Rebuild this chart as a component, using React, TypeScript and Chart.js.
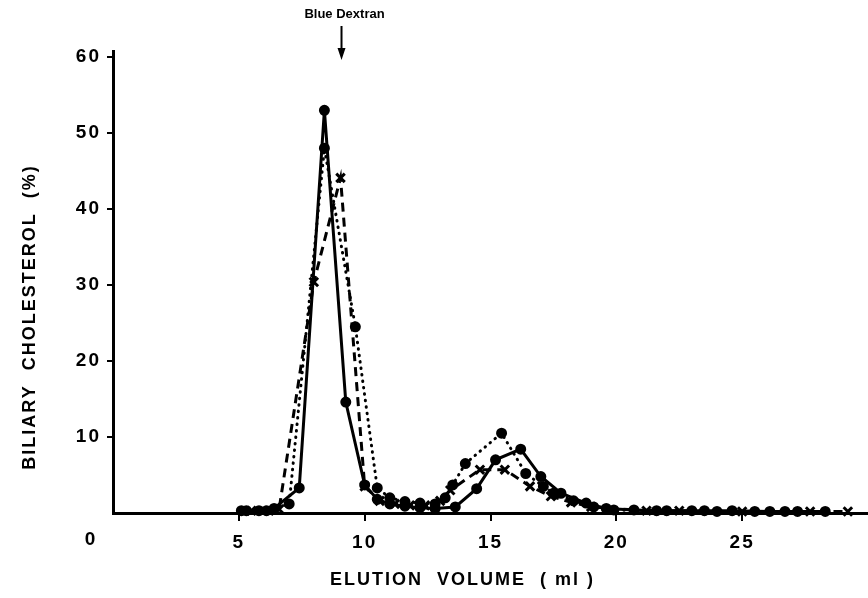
import React, { useEffect, useRef } from "react";
import { Chart, registerables } from "chart.js";

Chart.register(...registerables);

// ---- data (elution volume in ml, biliary cholesterol in %) ----
const solidX = [5.1, 5.8, 6.4, 7.4, 8.4, 9.25, 10.0, 10.5, 11.0, 11.6, 12.2, 12.8, 13.6, 14.45, 15.2, 16.2, 17.0, 17.8, 18.8, 19.6, 20.7, 22.0, 23.5, 24.6, 26.1, 27.2, 28.3];
const solidY = [0.3, 0.3, 0.6, 3.3, 53.0, 14.6, 3.7, 1.8, 1.2, 0.9, 0.7, 0.6, 0.8, 3.2, 7.0, 8.4, 4.8, 2.6, 1.3, 0.6, 0.4, 0.3, 0.3, 0.3, 0.2, 0.2, 0.2];

const dottedX = [5.3, 6.1, 7.0, 8.4, 9.63, 10.5, 11.0, 11.6, 12.2, 12.8, 13.2, 13.5, 14.0, 15.44, 16.4, 17.1, 17.5, 18.3, 19.1, 19.9, 21.6, 23.0, 24.0, 25.5, 26.7];
const dottedY = [0.3, 0.3, 1.2, 48.0, 24.5, 3.3, 2.0, 1.5, 1.3, 1.2, 2.0, 3.7, 6.5, 10.5, 5.2, 3.5, 2.6, 1.6, 0.8, 0.4, 0.3, 0.3, 0.2, 0.2, 0.2];

const dashedX = [5.5, 6.2, 6.6, 7.98, 9.04, 10.0, 10.6, 11.2, 11.8, 12.4, 13.0, 13.4, 14.58, 15.57, 16.57, 17.4, 18.2, 19.0, 21.2, 22.5, 25.0, 27.7, 29.2];
const dashedY = [0.3, 0.3, 0.5, 30.4, 44.1, 3.5, 1.6, 1.2, 1.0, 1.0, 1.6, 3.0, 5.7, 5.7, 3.5, 2.2, 1.4, 0.8, 0.3, 0.3, 0.2, 0.2, 0.2];

const xTicks = [5, 10, 15, 20, 25];
const yTicks = [10, 20, 30, 40, 50, 60];
const xTitle = "ELUTION  VOLUME  ( ml )" + "\u00a0".repeat(8);
const yTitle = "BILIARY  CHOLESTEROL  (%)" + "\u00a0".repeat(10);
const markerLabel = "Blue Dextran";
const markerX = 9.08;
const zeroLabel = "0";

const FONT = '"Liberation Sans", "DejaVu Sans", Arial, sans-serif';

const pts = (xs: number[], ys: number[]) => xs.map((x, i) => ({ x, y: ys[i] }));

const spacingPlugin = {
  id: "spacing",
  beforeDraw(chart: any) {
    chart.ctx.letterSpacing = "2px";
  },
  afterDraw(chart: any) {
    const ctx = chart.ctx;
    const xs = chart.scales.x;
    const ys = chart.scales.y;
    const px = xs.getPixelForValue(markerX);
    ctx.save();
    ctx.letterSpacing = "0px";
    ctx.fillStyle = "#000";
    ctx.strokeStyle = "#000";
    ctx.font = `bold 13px ${FONT}`;
    ctx.textAlign = "center";
    ctx.textBaseline = "middle";
    ctx.fillText(markerLabel, px + 3, 14);
    ctx.lineWidth = 2;
    ctx.beginPath();
    ctx.moveTo(px, 26);
    ctx.lineTo(px, 50);
    ctx.stroke();
    ctx.beginPath();
    ctx.moveTo(px - 4, 48);
    ctx.lineTo(px + 4, 48);
    ctx.lineTo(px, 60);
    ctx.closePath();
    ctx.fill();
    ctx.font = `bold 19px ${FONT}`;
    ctx.fillText(zeroLabel, 90, ys.getPixelForValue(0) + 27);
    ctx.restore();
    ctx.letterSpacing = "0px";
  },
};

export default function App() {
  const ref = useRef<HTMLCanvasElement | null>(null);
  useEffect(() => {
    if (!ref.current) return;
    const common = {
      borderColor: "#000",
      backgroundColor: "#000",
      pointBackgroundColor: "#000",
      pointBorderColor: "#000",
      tension: 0,
      fill: false,
      clip: false as any,
      borderWidth: 3,
    };
    const chart = new Chart(ref.current, {
      type: "line",
      data: {
        datasets: [
          {
            ...common,
            label: "solid",
            data: pts(solidX, solidY),
            pointStyle: "circle",
            pointRadius: 4,
          },
          {
            ...common,
            label: "dotted",
            data: pts(dottedX, dottedY),
            borderDash: [0.5, 6],
            borderCapStyle: "round",
            pointStyle: "circle",
            pointRadius: 4,
          },
          {
            ...common,
            label: "dashed",
            data: pts(dashedX, dashedY),
            borderDash: [9, 6],
            pointStyle: "crossRot",
            pointRadius: 6,
            pointBorderWidth: 3,
          },
        ] as any,
      },
      options: {
        animation: false,
        responsive: false,
        maintainAspectRatio: false,
        layout: { autoPadding: false, padding: { top: 51, right: 0, left: 0, bottom: 0 } },
        plugins: { legend: { display: false }, tooltip: { enabled: false } },
        scales: {
          x: {
            type: "linear",
            min: 0,
            max: 30,
            afterBuildTicks: (s: any) => {
              s.ticks = xTicks.map((v) => ({ value: v }));
            },
            afterFit: (s: any) => {
              s.height = 85;
              s.paddingLeft = 0;
              s.paddingRight = 0;
            },
            grid: { display: true, drawOnChartArea: false, drawTicks: true, tickLength: 8, color: "#000", lineWidth: 2 },
            border: { display: true, color: "#000", width: 3 },
            ticks: { color: "#000", font: { family: FONT, size: 19, weight: "bold" }, padding: 10, maxRotation: 0, autoSkip: false },
            title: { display: true, text: xTitle, color: "#000", font: { family: FONT, size: 18, weight: "bold" }, padding: { top: 0, bottom: 7 } },
          },
          y: {
            type: "linear",
            min: 0,
            max: 60.8,
            afterBuildTicks: (s: any) => {
              s.ticks = yTicks.map((v) => ({ value: v }));
            },
            afterFit: (s: any) => {
              s.width = 113;
              s.paddingTop = 0;
              s.paddingBottom = 0;
            },
            grid: { display: true, drawOnChartArea: false, drawTicks: true, tickLength: 6, color: "#000", lineWidth: 2 },
            border: { display: true, color: "#000", width: 3 },
            ticks: { color: "#000", font: { family: FONT, size: 19, weight: "bold" }, padding: 6, autoSkip: false },
            title: { display: true, text: yTitle, color: "#000", font: { family: FONT, size: 18, weight: "bold" }, padding: { top: 19, bottom: 0 } },
          },
        },
      } as any,
      plugins: [spacingPlugin],
    });
    return () => chart.destroy();
  }, []);
  return (
    <div style={{ position: "absolute", left: 0, top: 0, width: 868, height: 598, background: "#fff" }}>
      <canvas ref={ref} width={868} height={598} style={{ display: "block" }} />
    </div>
  );
}
